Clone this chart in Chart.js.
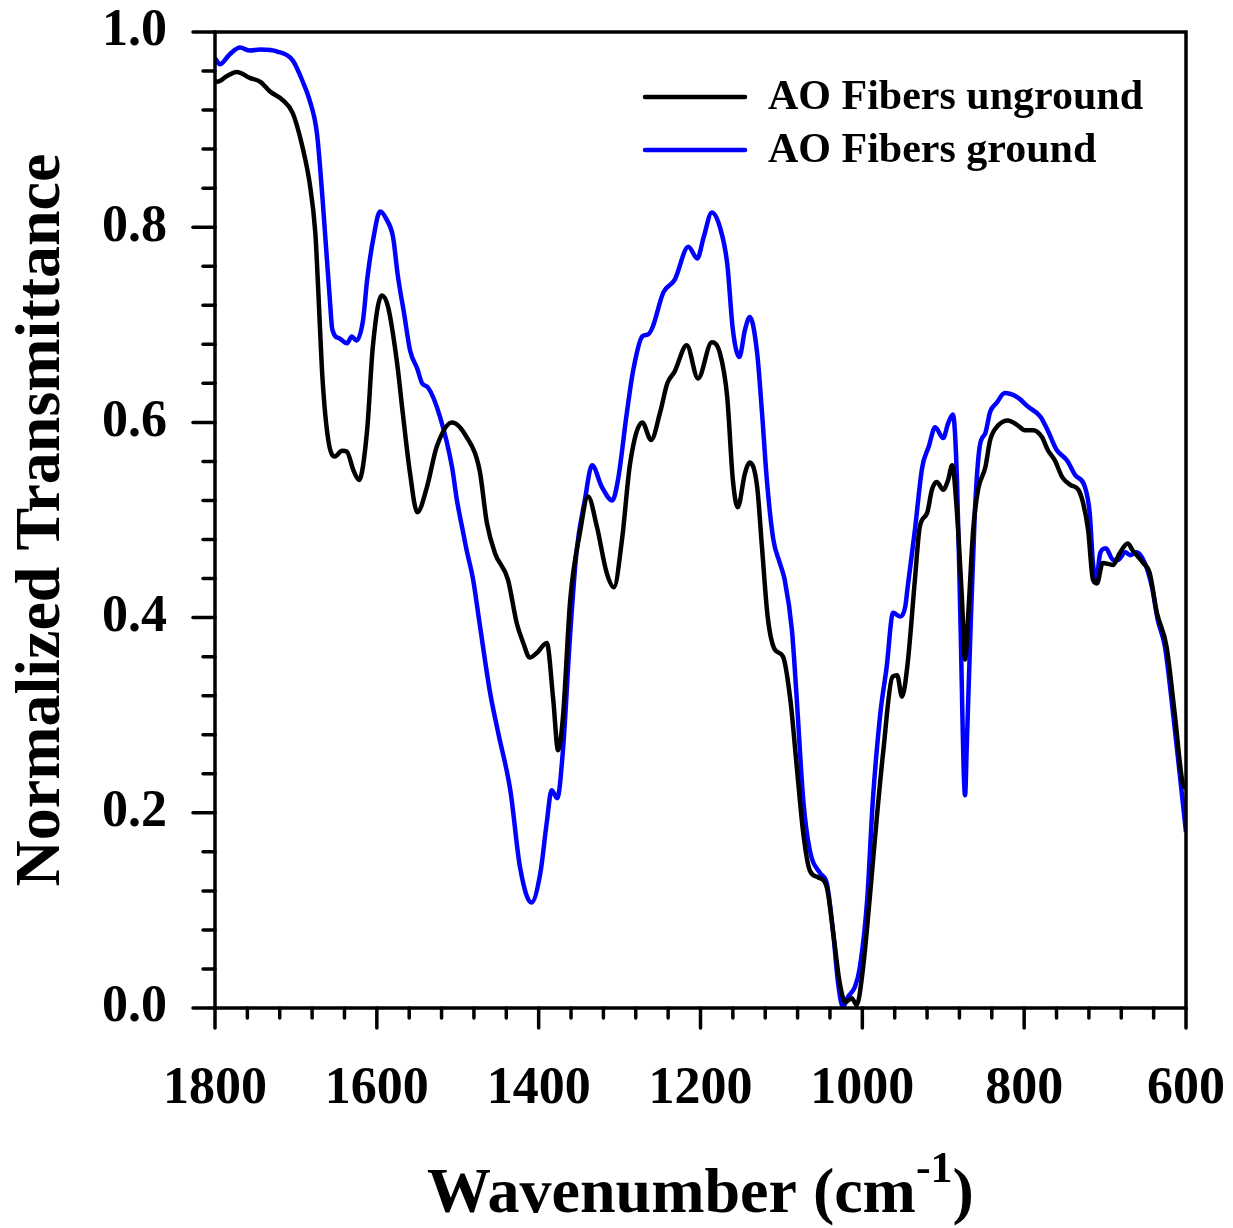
<!DOCTYPE html>
<html>
<head>
<meta charset="utf-8">
<script src="https://cdn.jsdelivr.net/npm/chart.js@4.4.1/dist/chart.umd.min.js"></script>
<style>
  html, body { margin: 0; padding: 0; background: #fff; }
  #wrap { width: 1233px; height: 1228px; }
</style>
</head>
<body>
<div id="wrap"><canvas id="grafico" width="1233" height="1228"></canvas></div>
<script>
// Espectro FTIR - fibras AO moidas e nao moidas
const numOndaNaoMoida = [1800, 1797, 1785, 1773, 1757, 1744, 1732, 1716, 1704, 1691, 1683, 1676, 1673, 1667, 1660, 1652, 1643, 1637, 1629, 1622, 1612, 1605, 1594, 1586, 1575, 1568, 1559, 1550, 1538, 1526, 1507, 1489, 1473, 1464, 1454, 1438, 1427, 1419, 1411, 1402, 1390, 1382, 1376, 1370, 1361, 1349, 1339, 1328, 1316, 1307, 1297, 1287, 1272, 1261, 1250, 1241, 1232, 1217, 1203, 1186, 1176, 1167, 1160, 1154, 1145, 1139, 1130, 1124, 1117, 1108, 1098, 1089, 1081, 1073, 1065, 1055, 1044, 1036, 1028, 1021, 1013, 1007, 999, 991, 982, 974, 963, 957, 951, 944, 935, 929, 920, 914, 908, 900, 894, 889, 883, 877, 873, 869, 863, 857, 848, 842, 832, 820, 808, 799, 789, 778, 771, 762, 753, 743, 733, 727, 721, 715, 710, 703, 690, 682, 672, 666, 653, 645, 636, 624, 614, 604, 600];
const transNaoMoida = [0.950, 0.949, 0.955, 0.959, 0.953, 0.949, 0.939, 0.930, 0.917, 0.879, 0.845, 0.794, 0.746, 0.643, 0.582, 0.565, 0.571, 0.570, 0.551, 0.541, 0.592, 0.677, 0.730, 0.718, 0.661, 0.610, 0.548, 0.508, 0.534, 0.575, 0.600, 0.585, 0.551, 0.497, 0.466, 0.439, 0.394, 0.374, 0.359, 0.364, 0.374, 0.316, 0.264, 0.298, 0.418, 0.487, 0.524, 0.493, 0.446, 0.431, 0.480, 0.558, 0.600, 0.582, 0.610, 0.640, 0.652, 0.679, 0.645, 0.682, 0.671, 0.626, 0.541, 0.513, 0.548, 0.559, 0.534, 0.472, 0.401, 0.367, 0.360, 0.316, 0.247, 0.179, 0.141, 0.134, 0.124, 0.077, 0.026, 0.006, 0.010, 0.003, 0.042, 0.111, 0.196, 0.264, 0.339, 0.341, 0.319, 0.353, 0.439, 0.493, 0.507, 0.531, 0.539, 0.531, 0.541, 0.556, 0.507, 0.421, 0.357, 0.405, 0.490, 0.531, 0.554, 0.582, 0.597, 0.602, 0.597, 0.592, 0.592, 0.585, 0.572, 0.561, 0.544, 0.536, 0.531, 0.517, 0.490, 0.439, 0.435, 0.456, 0.454, 0.466, 0.476, 0.469, 0.456, 0.446, 0.405, 0.370, 0.302, 0.230, 0.225];

const numOndaMoida = [1800, 1794, 1782, 1769, 1757, 1744, 1723, 1704, 1691, 1683, 1674, 1667, 1658, 1655, 1646, 1637, 1631, 1625, 1617, 1612, 1604, 1596, 1588, 1580, 1574, 1566, 1559, 1550, 1544, 1537, 1522, 1507, 1501, 1494, 1489, 1481, 1473, 1460, 1450, 1435, 1423, 1409, 1398, 1390, 1384, 1377, 1370, 1361, 1353, 1343, 1334, 1322, 1309, 1302, 1291, 1283, 1272, 1265, 1259, 1246, 1232, 1215, 1204, 1196, 1186, 1176, 1167, 1160, 1152, 1145, 1139, 1130, 1124, 1118, 1110, 1102, 1096, 1087, 1081, 1073, 1065, 1052, 1044, 1036, 1030, 1024, 1018, 1009, 1003, 994, 987, 978, 970, 962, 953, 947, 944, 935, 926, 918, 910, 900, 894, 888, 883, 879, 873, 871, 867, 861, 855, 848, 842, 834, 824, 809, 795, 780, 771, 760, 747, 737, 725, 719, 715, 711, 706, 699, 690, 684, 675, 669, 661, 651, 642, 635, 626, 616, 607, 600];
const transMoida = [0.973, 0.967, 0.977, 0.984, 0.981, 0.982, 0.980, 0.971, 0.948, 0.930, 0.896, 0.828, 0.725, 0.695, 0.686, 0.681, 0.688, 0.684, 0.705, 0.746, 0.790, 0.816, 0.808, 0.790, 0.750, 0.710, 0.674, 0.655, 0.640, 0.636, 0.606, 0.554, 0.520, 0.490, 0.469, 0.439, 0.394, 0.323, 0.282, 0.223, 0.144, 0.108, 0.138, 0.190, 0.223, 0.215, 0.264, 0.384, 0.469, 0.520, 0.556, 0.534, 0.520, 0.541, 0.610, 0.654, 0.688, 0.690, 0.698, 0.733, 0.746, 0.780, 0.768, 0.790, 0.815, 0.800, 0.763, 0.695, 0.667, 0.695, 0.708, 0.671, 0.610, 0.541, 0.480, 0.456, 0.439, 0.387, 0.316, 0.213, 0.162, 0.138, 0.128, 0.077, 0.026, 0.001, 0.011, 0.022, 0.042, 0.111, 0.213, 0.300, 0.349, 0.405, 0.401, 0.411, 0.431, 0.490, 0.554, 0.575, 0.595, 0.584, 0.599, 0.608, 0.541, 0.405, 0.218, 0.267, 0.370, 0.507, 0.575, 0.589, 0.611, 0.620, 0.630, 0.626, 0.616, 0.606, 0.592, 0.572, 0.561, 0.546, 0.534, 0.507, 0.456, 0.439, 0.466, 0.471, 0.459, 0.459, 0.467, 0.464, 0.467, 0.456, 0.431, 0.398, 0.370, 0.302, 0.234, 0.180];

const rotulosSeries = ['AO Fibers unground', 'AO Fibers ground'];
const coresSeries = ['#000000', '#0000ff'];
const ticksX = [1800, 1600, 1400, 1200, 1000, 800, 600];
const ticksY = [0.0, 0.2, 0.4, 0.6, 0.8, 1.0];

const fonte = '"Liberation Serif", "Times New Roman", serif';

function pontos(xs, ys) {
  return xs.map((x, i) => ({ x: x, y: ys[i] }));
}

// Moldura, marcas de escala, titulos e legenda
const pluginDecoracao = {
  id: 'decoracao',
  afterDraw(chart) {
    const ctx = chart.ctx;
    const area = chart.chartArea;
    const sx = chart.scales.x;
    const sy = chart.scales.y;
    ctx.save();

    // moldura
    ctx.strokeStyle = '#000';
    ctx.lineWidth = 3.5;
    ctx.strokeRect(area.left, area.top, area.right - area.left, area.bottom - area.top);

    // marcas do eixo x (maiores a cada 200, menores a cada 40)
    ctx.lineWidth = 3.5;
    ctx.lineCap = 'round';
    for (let w = 600; w <= 1800; w += 40) {
      const px = sx.getPixelForValue(w);
      const comp = (w % 200 === 0) ? 20 : 10;
      ctx.beginPath();
      ctx.moveTo(px, area.bottom);
      ctx.lineTo(px, area.bottom + comp);
      ctx.stroke();
    }
    // marcas do eixo y
    for (let k = 0; k <= 25; k++) {
      const v = k * 0.04;
      const py = sy.getPixelForValue(v);
      const comp = (k % 5 === 0) ? 22 : 12;
      ctx.beginPath();
      ctx.moveTo(area.left, py);
      ctx.lineTo(area.left - comp, py);
      ctx.stroke();
    }

    // titulo do eixo y
    ctx.fillStyle = '#000';
    ctx.font = 'bold 64px ' + fonte;
    ctx.textAlign = 'center';
    ctx.textBaseline = 'middle';
    ctx.save();
    ctx.translate(42, (area.top + area.bottom) / 2);
    ctx.rotate(-Math.PI / 2);
    ctx.fillText('Normalized Transmittance', 0, 0);
    ctx.restore();

    // titulo do eixo x com sobrescrito
    const base = 1212;
    const parte1 = 'Wavenumber (cm';
    const sup = '-1';
    const parte2 = ')';
    ctx.textBaseline = 'alphabetic';
    ctx.textAlign = 'left';
    ctx.font = 'bold 64px ' + fonte;
    const w1 = ctx.measureText(parte1).width;
    const w3 = ctx.measureText(parte2).width;
    ctx.font = 'bold 44px ' + fonte;
    const w2 = ctx.measureText(sup).width;
    const total = w1 + w2 + w3;
    let x0 = (area.left + area.right) / 2 - total / 2;
    ctx.font = 'bold 64px ' + fonte;
    ctx.fillText(parte1, x0, base);
    ctx.font = 'bold 44px ' + fonte;
    ctx.fillText(sup, x0 + w1, base - 30);
    ctx.font = 'bold 64px ' + fonte;
    ctx.fillText(parte2, x0 + w1 + w2, base);

    // legenda
    const linhasY = [97, 150];
    ctx.font = 'bold 42px ' + fonte;
    ctx.textBaseline = 'middle';
    ctx.textAlign = 'left';
    rotulosSeries.forEach((rot, i) => {
      ctx.strokeStyle = coresSeries[i];
      ctx.lineWidth = 4.5;
      ctx.beginPath();
      ctx.moveTo(645, linhasY[i]);
      ctx.lineTo(745, linhasY[i]);
      ctx.stroke();
      ctx.fillStyle = '#000';
      ctx.fillText(rot, 768, linhasY[i] + 1);
    });

    ctx.restore();
  }
};

const ctx = document.getElementById('grafico').getContext('2d');
new Chart(ctx, {
  type: 'line',
  data: {
    datasets: [
      {
        label: rotulosSeries[0],
        data: pontos(numOndaNaoMoida, transNaoMoida),
        borderColor: coresSeries[0],
        borderWidth: 4.5,
        pointRadius: 0,
        cubicInterpolationMode: 'monotone',
        fill: false
      },
      {
        label: rotulosSeries[1],
        data: pontos(numOndaMoida, transMoida),
        borderColor: coresSeries[1],
        borderWidth: 4.5,
        pointRadius: 0,
        cubicInterpolationMode: 'monotone',
        fill: false
      }
    ]
  },
  options: {
    responsive: false,
    animation: false,
    devicePixelRatio: 1,
    layout: { padding: { top: 32, right: 47, left: 0, bottom: 0 } },
    plugins: {
      legend: { display: false },
      tooltip: { enabled: false }
    },
    scales: {
      x: {
        type: 'linear',
        reverse: true,
        min: 600,
        max: 1800,
        afterFit(scale) {
          scale.height = 220;
          scale.paddingLeft = 0;
          scale.paddingRight = 0;
        },
        afterBuildTicks(scale) { scale.ticks = ticksX.map(v => ({ value: v })); },
        grid: { display: false, drawTicks: false },
        border: { display: false },
        ticks: {
          padding: 50,
          color: '#000',
          maxRotation: 0,
          autoSkip: false,
          font: { family: fonte, size: 52, weight: 'bold' },
          callback: v => String(v)
        }
      },
      y: {
        min: 0,
        max: 1,
        afterFit(scale) {
          scale.width = 215;
          scale.paddingTop = 0;
          scale.paddingBottom = 0;
        },
        afterBuildTicks(scale) { scale.ticks = ticksY.map(v => ({ value: v })); },
        grid: { display: false, drawTicks: false },
        border: { display: false },
        ticks: {
          padding: 48,
          color: '#000',
          font: { family: fonte, size: 52, weight: 'bold' },
          callback: v => Number(v).toFixed(1)
        }
      }
    }
  },
  plugins: [pluginDecoracao]
});
</script>
</body>
</html>
